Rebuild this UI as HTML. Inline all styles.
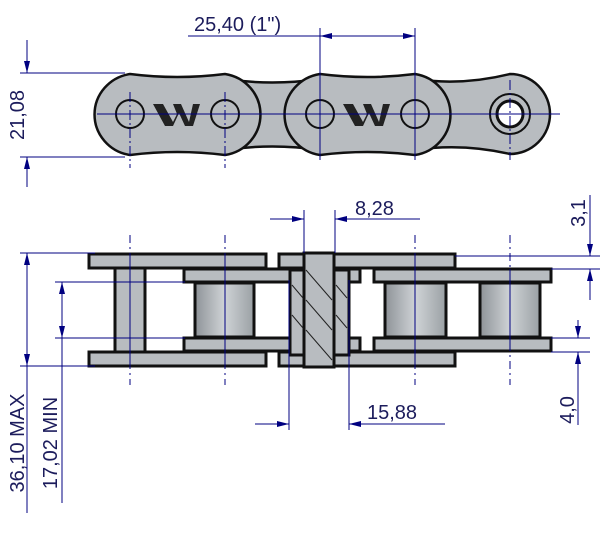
<!DOCTYPE html>
<html><head><meta charset="utf-8"><style>
html,body{margin:0;padding:0;background:#fff;width:600px;height:536px;overflow:hidden}
text{font-family:"Liberation Sans",sans-serif;fill:#1c1c5c;font-size:20px}
</style></head><body>
<svg width="600" height="536" viewBox="0 0 600 536" xmlns="http://www.w3.org/2000/svg">
<defs>
<marker id="a" viewBox="0 0 12 6" refX="12" refY="3" markerWidth="12" markerHeight="6" orient="auto-start-reverse" markerUnits="userSpaceOnUse"><path d="M0,0L12,3L0,6z" fill="#000080"/></marker>
<linearGradient id="rg" x1="0" x2="1"><stop offset="0" stop-color="#8e9398"/><stop offset="0.5" stop-color="#cfd3d6"/><stop offset="1" stop-color="#9aa0a4"/></linearGradient>
</defs>
<!-- TOP VIEW -->
<g stroke="#111" stroke-width="2.5" fill="#b8bcc0">
 <path d="M225,79 Q272,86 320,79 L320,150 Q272,143 225,150 Z"/>
 <path d="M415,79 Q462,86 510,74 A40,40 0 0 1 510,154 Q462,143 415,150 Z"/>
 <path d="M130,74 Q177,80 225,74 A42,41 0 0 1 225,155 Q177,149 130,155 A42,41 0 0 1 130,74 Z"/>
 <path d="M320,74 Q367,80 415,74 A42,41 0 0 1 415,155 Q367,149 320,155 A42,41 0 0 1 320,74 Z"/>
</g>
<g fill="none" stroke="#111" stroke-width="2">
 <circle cx="130" cy="114" r="14"/><circle cx="225" cy="114" r="14"/>
 <circle cx="320" cy="114" r="14"/><circle cx="415" cy="114" r="14"/>
 <circle cx="510" cy="114" r="20"/>
</g>
<circle cx="510" cy="114" r="13" fill="#fff" stroke="#111" stroke-width="3"/>
<g fill="#222">
 <path d="M153,104h10l10,18l4,-8l-4,-10h8l8,18l4,-18h7l-7,22h-8l-6,-13l-6,13h-8z"/>
 <path d="M343,104h10l10,18l4,-8l-4,-10h8l8,18l4,-18h7l-7,22h-8l-6,-13l-6,13h-8z"/>
</g>
<g stroke="#000080" stroke-width="1" fill="none">
 <line x1="97" y1="114" x2="560" y2="114"/>
 <line x1="130" y1="92" x2="130" y2="168" stroke-dasharray="10,3,2,3"/>
 <line x1="225" y1="92" x2="225" y2="168" stroke-dasharray="10,3,2,3"/>
 <line x1="320" y1="28" x2="320" y2="160"/>
 <line x1="415" y1="28" x2="415" y2="160"/>
 <line x1="510" y1="80" x2="510" y2="160" stroke-dasharray="10,3,2,3"/>
 <line x1="188" y1="36" x2="320" y2="36"/>
 <line x1="320" y1="36" x2="415" y2="36" marker-start="url(#a)" marker-end="url(#a)"/>
 <line x1="20" y1="73" x2="125" y2="73"/><line x1="20" y1="157" x2="125" y2="157"/>
 <line x1="27" y1="40" x2="27" y2="73" marker-end="url(#a)"/>
 <line x1="27" y1="187" x2="27" y2="157" marker-end="url(#a)"/>
</g>
<text x="194" y="31">25,40 (1")</text>
<text transform="translate(24,115) rotate(-90)" text-anchor="middle">21,08</text>
<!-- SIDE VIEW -->
<g stroke="#111" stroke-width="3" fill="#b8bcc0">
 <rect x="115" y="268" width="30" height="84"/>
 <rect x="195" y="283" width="59" height="54" fill="url(#rg)"/>
 <rect x="385" y="283" width="61" height="54" fill="url(#rg)"/>
 <rect x="480" y="283" width="60" height="54" fill="url(#rg)"/>
 <rect x="184" y="269" width="176" height="13"/>
 <rect x="374" y="269" width="177" height="13"/>
 <rect x="184" y="338" width="176" height="13"/>
 <rect x="374" y="338" width="177" height="13"/>
 <rect x="89" y="254" width="177" height="14"/>
 <rect x="279" y="254" width="176" height="14"/>
 <rect x="89" y="352" width="177" height="14"/>
 <rect x="279" y="352" width="176" height="14"/>
 <rect x="290" y="270" width="14" height="85"/>
 <rect x="334" y="270" width="15" height="85"/>
 <rect x="304" y="253" width="30" height="114"/>
</g>
<g stroke="#222" stroke-width="1">
 <line x1="306" y1="270" x2="332" y2="300"/><line x1="306" y1="300" x2="332" y2="330"/>
 <line x1="306" y1="330" x2="332" y2="360"/><line x1="292" y1="285" x2="303" y2="298"/>
 <line x1="292" y1="315" x2="303" y2="328"/><line x1="336" y1="285" x2="347" y2="298"/>
 <line x1="336" y1="315" x2="347" y2="328"/>
</g>
<g stroke="#000080" stroke-width="1" fill="none">
 <line x1="130" y1="235" x2="130" y2="385" stroke-dasharray="8,4,2,4"/>
 <line x1="225" y1="235" x2="225" y2="385" stroke-dasharray="8,4,2,4"/>
 <line x1="415" y1="235" x2="415" y2="385" stroke-dasharray="8,4,2,4"/>
 <line x1="510" y1="235" x2="510" y2="385" stroke-dasharray="8,4,2,4"/>
 <line x1="130" y1="254" x2="130" y2="366"/><line x1="225" y1="254" x2="225" y2="366"/>
 <line x1="415" y1="254" x2="415" y2="366"/><line x1="510" y1="269" x2="510" y2="351"/>
 <line x1="304" y1="210" x2="304" y2="253"/><line x1="335" y1="210" x2="335" y2="253"/>
 <line x1="270" y1="219" x2="304" y2="219" marker-end="url(#a)"/>
 <line x1="420" y1="219" x2="335" y2="219" marker-end="url(#a)"/>
 <line x1="289" y1="280" x2="289" y2="430"/><line x1="349" y1="280" x2="349" y2="430"/>
 <line x1="255" y1="424" x2="289" y2="424" marker-end="url(#a)"/>
 <line x1="445" y1="424" x2="349" y2="424" marker-end="url(#a)"/>
 <line x1="20" y1="253" x2="95" y2="253"/><line x1="20" y1="366" x2="95" y2="366"/>
 <line x1="27" y1="310" x2="27" y2="253" marker-end="url(#a)"/>
 <line x1="27" y1="310" x2="27" y2="366" marker-end="url(#a)"/>
 <line x1="27" y1="366" x2="27" y2="513"/>
 <line x1="55" y1="282" x2="185" y2="282"/><line x1="55" y1="338" x2="185" y2="338"/>
 <line x1="62" y1="310" x2="62" y2="282" marker-end="url(#a)"/>
 <line x1="62" y1="310" x2="62" y2="338" marker-end="url(#a)"/>
 <line x1="62" y1="338" x2="62" y2="503"/>
 <line x1="455" y1="256" x2="600" y2="256"/><line x1="551" y1="269" x2="600" y2="269"/>
 <line x1="590" y1="195" x2="590" y2="256" marker-end="url(#a)"/>
 <line x1="590" y1="300" x2="590" y2="269" marker-end="url(#a)"/>
 <line x1="551" y1="338" x2="590" y2="338"/><line x1="551" y1="352" x2="590" y2="352"/>
 <line x1="578" y1="320" x2="578" y2="338" marker-end="url(#a)"/>
 <line x1="578" y1="425" x2="578" y2="352" marker-end="url(#a)"/>
</g>
<text x="355" y="215">8,28</text>
<text x="367" y="419">15,88</text>
<text transform="translate(24,443) rotate(-90)" text-anchor="middle">36,10 MAX</text>
<text transform="translate(57,443) rotate(-90)" text-anchor="middle">17,02 MIN</text>
<text transform="translate(585,213) rotate(-90)" text-anchor="middle">3,1</text>
<text transform="translate(574,410) rotate(-90)" text-anchor="middle">4,0</text>
</svg>
</body></html>
